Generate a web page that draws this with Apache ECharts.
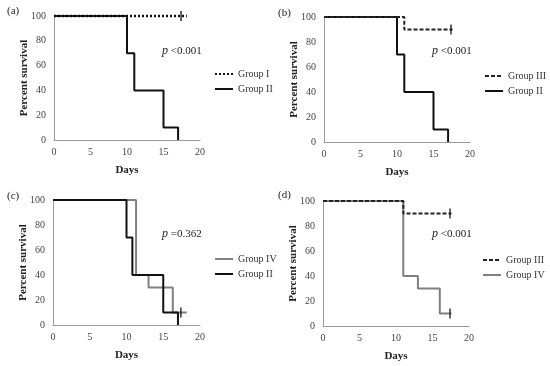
<!DOCTYPE html>
<html><head><meta charset="utf-8">
<script src="https://cdn.jsdelivr.net/npm/echarts@6/dist/echarts.min.js"></script>
<style>html,body{margin:0;padding:0;background:#fff}#c{width:550px;height:366px}</style>
</head><body><div id="c"></div>
<script>
// ---- Data (days, percent survival) ----
const xTicksMax = 20, xInterval = 5, yMax = 100, yInterval = 20;
// Panel (a)
const a_groupI_days = [0, 18.2];
const a_groupI_surv = [100, 100];
const a_groupI_censor = [[17.4, 100]];
const a_groupII_days = [0, 10, 11, 15, 17];
const a_groupII_surv = [100, 70, 40, 10, 0];
// Panel (b)
const b_groupIII_days = [0, 11, 17.6];
const b_groupIII_surv = [100, 90, 90];
const b_groupIII_censor = [[17.4, 90]];
const b_groupII_days = [0, 10, 11, 15, 17];
const b_groupII_surv = [100, 70, 40, 10, 0];
// Panel (c)
const c_groupIV_days = [0, 11.3, 13, 16.3, 18.2];
const c_groupIV_surv = [100, 40, 30, 10, 10];
const c_groupIV_censor = [[17.4, 10]];
const c_groupII_days = [0, 10, 10.8, 15, 17];
const c_groupII_surv = [100, 70, 40, 10, 0];
// Panel (d)
const d_groupIII_days = [0, 11, 17.6];
const d_groupIII_surv = [100, 90, 90];
const d_groupIII_censor = [[17.4, 90]];
const d_groupIV_days = [0, 11, 13, 16, 17.6];
const d_groupIV_surv = [100, 40, 30, 10, 10];
const d_groupIV_censor = [[17.4, 10]];

const panelLabels = ['(a)', '(b)', '(c)', '(d)'];
const pTexts = ['<0.001', '<0.001', '=0.362', '<0.001'];
const legendNames = [['Group I', 'Group II'], ['Group III', 'Group II'], ['Group IV', 'Group II'], ['Group III', 'Group IV']];

const zip = (xs, ys) => xs.map((x, i) => [x, ys[i]]);

const FONT = '"Liberation Serif", "Times New Roman", serif';
const BLACK = '#111';
const GRAY = '#808080';

const grids = [
  {left: 54, top: 16, width: 146, height: 124},
  {left: 324, top: 17, width: 146, height: 125},
  {left: 53, top: 200, width: 147, height: 125},
  {left: 323, top: 201, width: 146, height: 125}
];

const xAxes = grids.map((g, i) => ({
  type: 'value', gridIndex: i, min: 0, max: xTicksMax, interval: xInterval,
  name: 'Days', nameLocation: 'middle', nameGap: 25,
  nameTextStyle: {fontFamily: FONT, fontWeight: 'bold', fontSize: 11, color: '#222'},
  axisLine: {lineStyle: {color: '#9a9a9a', width: 1}},
  axisTick: {show: false}, splitLine: {show: false},
  axisLabel: {fontFamily: FONT, fontSize: 10, color: '#444', margin: 7}
}));
const yAxes = grids.map((g, i) => ({
  type: 'value', gridIndex: i, min: 0, max: yMax, interval: yInterval,
  name: 'Percent survival', nameLocation: 'middle', nameGap: 24, nameRotate: 90,
  nameMoveOverlap: false,
  nameTextStyle: {fontFamily: FONT, fontWeight: 'bold', fontSize: 11, color: '#222'},
  axisLine: {show: true, lineStyle: {color: '#9a9a9a', width: 1}},
  axisTick: {show: false}, splitLine: {show: false},
  axisLabel: {fontFamily: FONT, fontSize: 10, color: '#444', margin: 8}
}));

function km(name, idx, data, color, type, z, width) {
  return {
    type: 'line', name, xAxisIndex: idx, yAxisIndex: idx, data, step: 'end',
    symbol: 'none', clip: false, z: z || 2,
    lineStyle: {color, width: width || 2, type: type || 'solid'}, itemStyle: {color},
    animation: false, silent: true
  };
}
function censor(idx, data) {
  return {
    type: 'scatter', xAxisIndex: idx, yAxisIndex: idx, data,
    symbol: 'rect', symbolSize: [1.6, 10], itemStyle: {color: '#111'},
    z: 5, animation: false, silent: true
  };
}

const series = [
  km('Group II', 0, zip(a_groupII_days, a_groupII_surv), BLACK, 'solid', 2),
  km('Group I', 0, zip(a_groupI_days, a_groupI_surv), BLACK, [2, 2], 3, 2.5),
  censor(0, a_groupI_censor),
  km('Group II', 1, zip(b_groupII_days, b_groupII_surv), BLACK, 'solid', 2),
  km('Group III', 1, zip(b_groupIII_days, b_groupIII_surv), '#222', [4, 2], 3),
  censor(1, b_groupIII_censor),
  km('Group IV', 2, zip(c_groupIV_days, c_groupIV_surv), GRAY, 'solid', 2),
  km('Group II', 2, zip(c_groupII_days, c_groupII_surv), BLACK, 'solid', 3),
  censor(2, c_groupIV_censor),
  km('Group IV', 3, zip(d_groupIV_days, d_groupIV_surv), GRAY, 'solid', 2),
  km('Group III', 3, zip(d_groupIII_days, d_groupIII_surv), '#222', [4, 2], 3),
  censor(3, d_groupIII_censor),
  censor(3, d_groupIV_censor)
];

const legendPos = [
  {left: 214, top: 68},
  {left: 484, top: 70},
  {left: 214, top: 253},
  {left: 482, top: 254}
];
const legends = legendPos.map((p, i) => ({
  left: p.left, top: p.top, orient: 'vertical', data: legendNames[i], padding: 0,
  itemWidth: 18, itemHeight: 2, itemGap: 3, selectedMode: false,
  textStyle: {fontFamily: FONT, fontSize: 10, color: '#333', lineHeight: 12}
}));

const labelPos = [[7, 13], [278, 15], [7, 198], [278, 197]];
const pPos = [[162, 52], [432, 52], [162, 235], [432, 235]];
const graphic = [];
panelLabels.forEach((t, i) => {
  graphic.push({type: 'text', left: labelPos[i][0], top: labelPos[i][1] - 7,
    style: {text: t, font: '11px ' + FONT, fill: '#222'}});
  graphic.push({type: 'text', left: pPos[i][0], top: pPos[i][1] - 7,
    style: {text: '{i|p} ' + pTexts[i], font: '11px ' + FONT, fill: '#222',
      rich: {i: {fontStyle: 'italic', fontFamily: FONT, fontSize: 12, fill: '#222'}}}});
});

const chart = echarts.init(document.getElementById('c'), null, {renderer: 'canvas'});
chart.setOption({
  animation: false, backgroundColor: '#fff',
  grid: grids, xAxis: xAxes, yAxis: yAxes, series, legend: legends, graphic
});
</script></body></html>
